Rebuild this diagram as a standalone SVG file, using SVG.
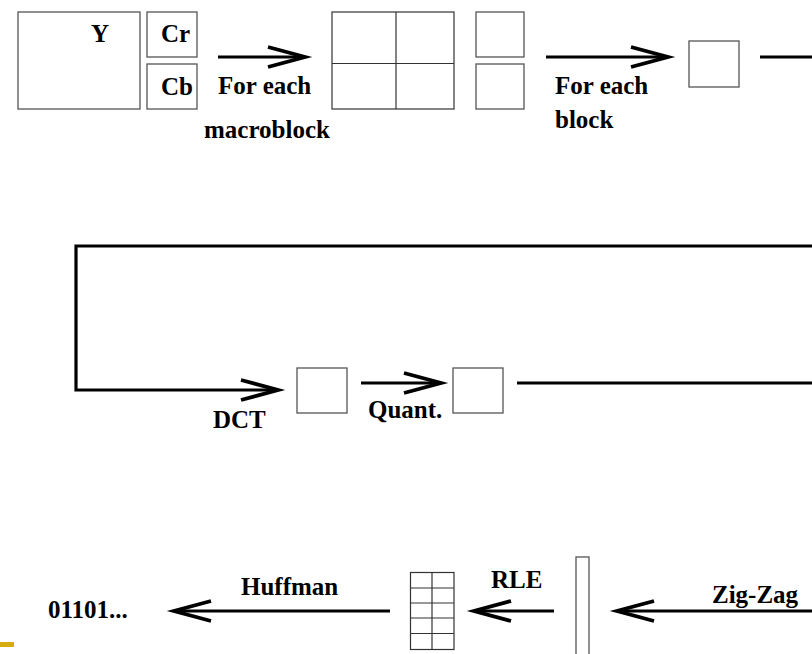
<svg xmlns="http://www.w3.org/2000/svg" width="812" height="654" viewBox="0 0 812 654">
<style>
.box{fill:#fff;stroke:#555;stroke-width:1.3}
.grid{fill:none;stroke:#333;stroke-width:1.2}
.t{font-family:"Liberation Serif","Times New Roman",serif;font-weight:bold;font-size:25px;fill:#000}
.ln{fill:none;stroke:#000;stroke-width:3.2}
.head{fill:none;stroke:#000;stroke-width:3.8;stroke-linejoin:miter;stroke-miterlimit:10}
</style>
<defs>
<marker id="ah" markerUnits="userSpaceOnUse" markerWidth="60" markerHeight="40" orient="auto" overflow="visible" refX="0" refY="0">
<path d="M-37,-10 L0,0 L-37,10" class="head"/>
</marker>
</defs>
<rect x="0" y="642" width="14" height="5" fill="#D6AC0F"/>
<g id="Y"><rect class="box" x="18" y="12" width="122" height="97"/><text class="t" x="91" y="42">Y</text></g>
<g id="Cr"><rect class="box" x="147" y="12" width="50" height="45"/><text class="t" x="161" y="42">Cr</text></g>
<g id="Cb"><rect class="box" x="147" y="64" width="50" height="45"/><text class="t" x="161" y="95">Cb</text></g>
<g id="macroblock"><rect class="grid" x="332" y="12" width="122" height="97"/><line class="grid" x1="396" y1="12" x2="396" y2="109"/><line class="grid" x1="332" y1="63.5" x2="454" y2="63.5"/></g>
<g id="chroma1"><rect class="box" x="476" y="12" width="48" height="45"/></g>
<g id="chroma2"><rect class="box" x="476" y="64" width="48" height="45"/></g>
<g id="block"><rect class="box" x="689" y="41" width="50" height="46"/></g>
<g id="dct"><rect class="box" x="297" y="368" width="50" height="45"/></g>
<g id="quant"><rect class="box" x="453" y="368" width="50" height="45"/></g>
<g id="vector"><rect class="box" x="576" y="557" width="13" height="100"/></g>
<g id="rle"><rect class="grid" x="410.5" y="572.5" width="43.5" height="77"/><line class="grid" x1="432" y1="572" x2="432" y2="650"/><line class="grid" x1="410" y1="588" x2="454" y2="588"/><line class="grid" x1="410" y1="603" x2="454" y2="603"/><line class="grid" x1="410" y1="618" x2="454" y2="618"/><line class="grid" x1="410" y1="633.5" x2="454" y2="633.5"/></g>
<g id="output"><text class="t" x="48" y="618">01101...</text></g>
<g id="connectors">
<line class="ln" x1="218" y1="57" x2="305" y2="57" marker-end="url(#ah)"/>
<line class="ln" x1="546" y1="57" x2="668" y2="57" marker-end="url(#ah)"/>
<polyline class="ln" points="760,57 812,57"/>
<polyline class="ln" points="812,246 76,246 76,390 278,390" marker-end="url(#ah)"/>
<line class="ln" x1="361" y1="383" x2="441" y2="383" marker-end="url(#ah)"/>
<line class="ln" x1="517" y1="383" x2="812" y2="383"/>
<line class="ln" x1="812" y1="611" x2="617" y2="611" marker-end="url(#ah)"/>
<line class="ln" x1="554" y1="611" x2="474" y2="611" marker-end="url(#ah)"/>
<line class="ln" x1="390" y1="611" x2="174" y2="611" marker-end="url(#ah)"/>
<text class="t" x="218" y="94">For each</text>
<text class="t" x="204" y="138">macroblock</text>
<text class="t" x="555" y="94">For each</text>
<text class="t" x="555" y="128">block</text>
<text class="t" x="213" y="428">DCT</text>
<text class="t" x="368" y="418">Quant.</text>
<text class="t" x="241" y="595">Huffman</text>
<text class="t" x="491" y="588">RLE</text>
<text class="t" x="712" y="603">Zig-Zag</text>
</g>
</svg>
